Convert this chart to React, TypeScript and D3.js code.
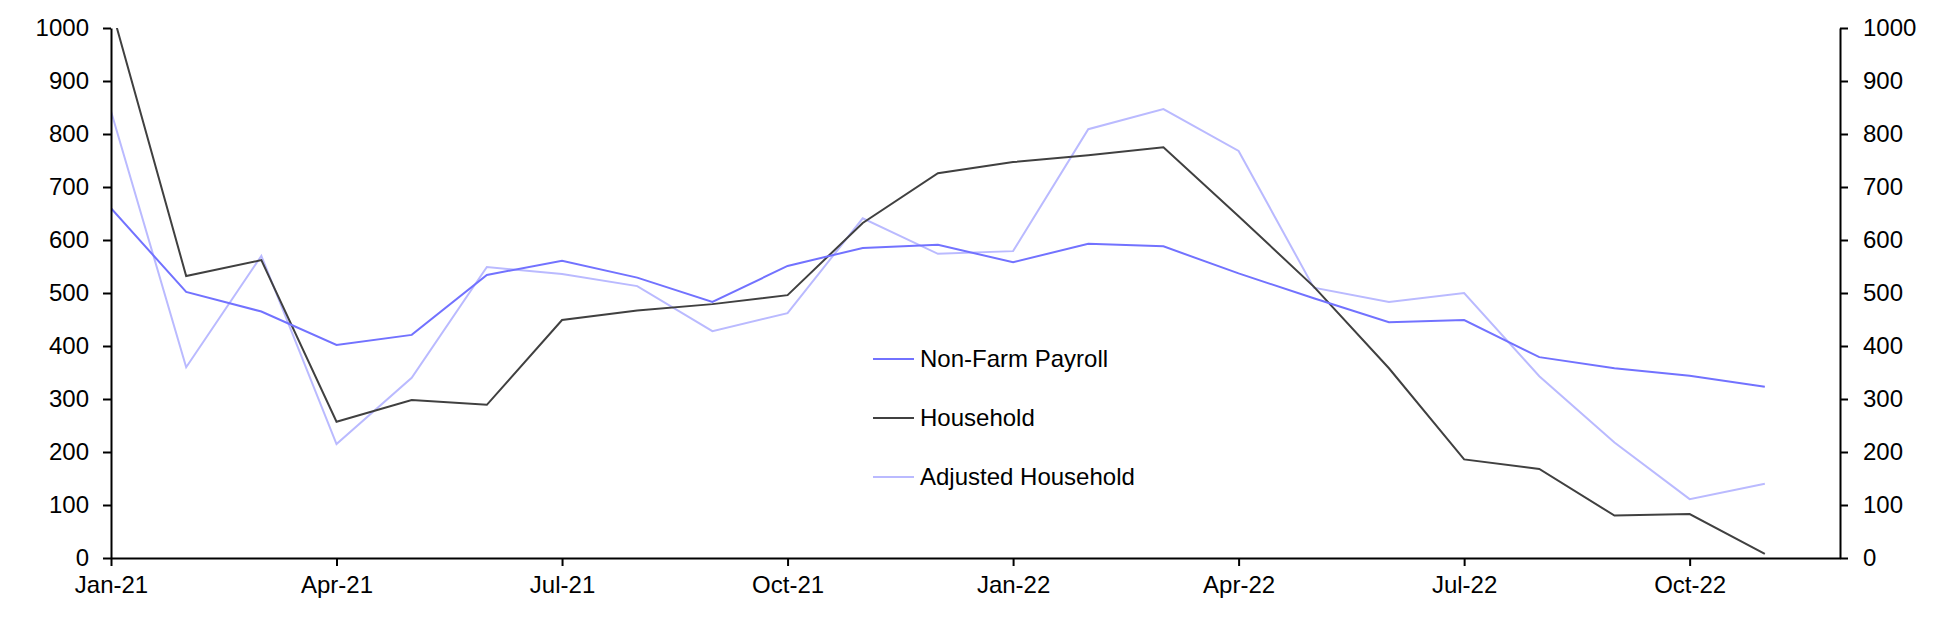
import React, { useEffect, useRef } from 'react';
import * as d3 from 'd3';

// monthly, Jan-21 .. Nov-22
const months = [
  'Jan-21', 'Feb-21', 'Mar-21', 'Apr-21', 'May-21', 'Jun-21', 'Jul-21', 'Aug-21',
  'Sep-21', 'Oct-21', 'Nov-21', 'Dec-21', 'Jan-22', 'Feb-22', 'Mar-22', 'Apr-22',
  'May-22', 'Jun-22', 'Jul-22', 'Aug-22', 'Sep-22', 'Oct-22', 'Nov-22',
];
const nonFarmPayroll = [
  660, 502, 465, 402, 421, 534, 561, 529, 483, 551, 585, 591,
  558, 593, 588, 537, 490, 445, 449, 379, 358, 344, 323,
];
const household = [
  1040, 532, 562, 257, 298, 289, 449, 467, 479, 496, 632, 726,
  747, 760, 775, 645, 512, 358, 186, 168, 80, 83, 8,
];
const adjustedHousehold = [
  843, 360, 570, 215, 340, 549, 536, 513, 428, 462, 641, 574,
  579, 809, 847, 768, 510, 483, 500, 343, 218, 111, 140,
];
const xTickIndex = [0, 3, 6, 9, 12, 15, 18, 21];
const yTicks = [0, 100, 200, 300, 400, 500, 600, 700, 800, 900, 1000];

const series = [
  { name: 'Non-Farm Payroll', values: nonFarmPayroll, color: '#7272ff' },
  { name: 'Household', values: household, color: '#404040' },
  { name: 'Adjusted Household', values: adjustedHousehold, color: '#babaff' },
];

const W = 1945;
const H = 635;
const FONT = '"Liberation Sans", Arial, sans-serif';

export default function App() {
  const svgRef = useRef<SVGSVGElement>(null);

  useEffect(() => {
    if (!svgRef.current) return;
    const svg = d3.select(svgRef.current);
    svg.selectAll('*').remove();

    const left = 111, right = 1840, top = 28, bottom = 558;

    // one slot past the last month, like the category axis
    const x = d3.scaleLinear().domain([0, months.length]).range([left, right]);
    const y = d3.scaleLinear().domain([0, 1000]).range([bottom, top]);
    const fmt = d3.format('d');

    svg.append('defs').append('clipPath').attr('id', 'plot-clip')
      .append('rect')
      .attr('x', left).attr('y', top)
      .attr('width', right - left).attr('height', bottom - top);

    const line = d3.line<number>()
      .x((_, i) => x(i))
      .y(d => y(d));

    const lines = svg.append('g').attr('clip-path', 'url(#plot-clip)');
    // draw light series first so the darker ones sit on top
    [series[2], series[1], series[0]].forEach(s => {
      lines.append('path')
        .datum(s.values)
        .attr('fill', 'none')
        .attr('stroke', s.color)
        .attr('stroke-width', 2)
        .attr('stroke-linejoin', 'miter')
        .attr('d', line);
    });

    const styleAxis = (g: any) => {
      g.select('.domain').attr('stroke', '#000').attr('stroke-width', 2);
      g.selectAll('.tick line').attr('stroke', '#000').attr('stroke-width', 2);
      g.selectAll('.tick text')
        .attr('fill', '#000')
        .style('font-family', FONT)
        .style('font-size', '24px');
    };

    // x axis
    svg.append('g')
      .attr('transform', `translate(0,${bottom})`)
      .call(d3.axisBottom(x)
        .tickValues(xTickIndex)
        .tickFormat(d => months[d as number])
        .tickSize(8)
        .tickSizeOuter(0)
        .tickPadding(10))
      .call(styleAxis);

    // left y axis
    svg.append('g')
      .attr('transform', `translate(${left},0)`)
      .call(d3.axisLeft(y).tickValues(yTicks).tickFormat(d => fmt(d as number))
        .tickSize(8).tickSizeOuter(0).tickPadding(14))
      .call(styleAxis);

    // right y axis
    svg.append('g')
      .attr('transform', `translate(${right},0)`)
      .call(d3.axisRight(y).tickValues(yTicks).tickFormat(d => fmt(d as number))
        .tickSize(8).tickSizeOuter(0).tickPadding(15))
      .call(styleAxis);

    // legend
    const legend = svg.append('g').attr('transform', 'translate(873,359)');
    series.forEach((s, i) => {
      const row = legend.append('g').attr('transform', `translate(0,${i * 59})`);
      row.append('line')
        .attr('x1', 0).attr('x2', 41)
        .attr('stroke', s.color).attr('stroke-width', 2);
      row.append('text')
        .attr('x', 47).attr('dy', '0.35em')
        .style('font-family', FONT).style('font-size', '24px')
        .attr('fill', '#000')
        .text(s.name);
    });
  }, []);

  return (
    <svg
      ref={svgRef}
      width={W}
      height={H}
      style={{ position: 'absolute', left: 0, top: 0, background: '#fff' }}
    />
  );
}
